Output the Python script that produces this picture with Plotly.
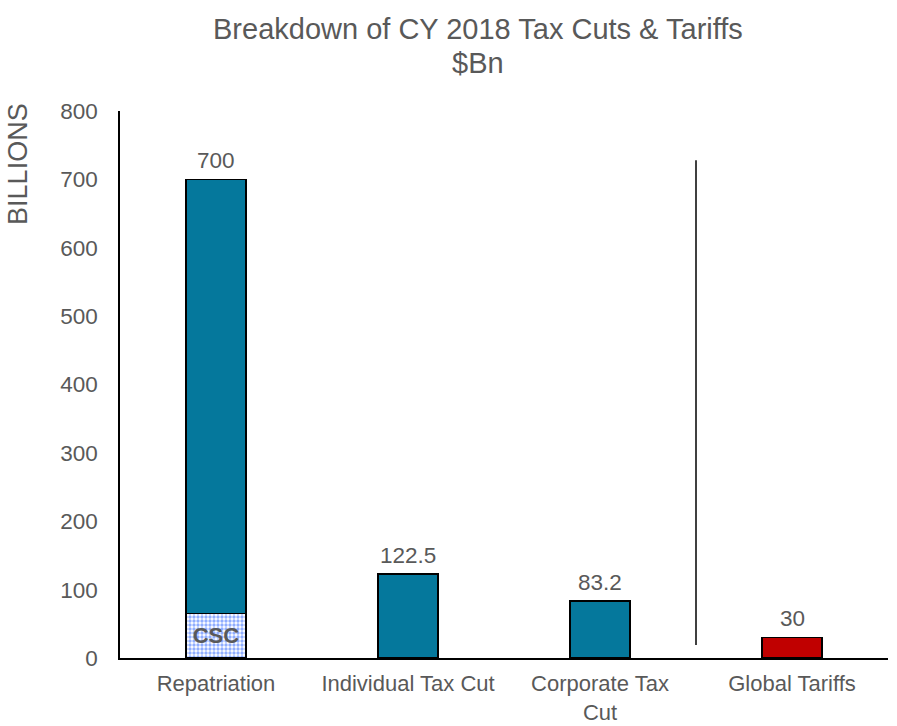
import plotly.graph_objects as go

# Tax cut / tariff breakdown, calendar year 2018, in $ billions
categories = ["Repatriation", "Individual Tax Cut", "Corporate Tax<br>Cut", "Global Tariffs"]
totals = [700, 122.5, 83.2, 30]
csc_share = [65, 0, 0, 0]          # portion of repatriation attributed to CSC
bar_colors = ["#05789C", "#05789C", "#05789C", "#C00000"]
title_lines = ["Breakdown of CY 2018 Tax Cuts & Tariffs", "$Bn"]

upper = [t - c for t, c in zip(totals, csc_share)]
label_text = [f"{t:g}" for t in totals]

GRAY = "#595959"
FONT = "Liberation Sans, Arial, sans-serif"
TICK = 22.5

fig = go.Figure()

# dotted CSC base segment
fig.add_trace(go.Bar(
    x=categories[:1], y=csc_share[:1],
    marker=dict(color="white",
                line=dict(color="black", width=1.5),
                pattern=dict(shape=".", fgcolor="#1F5BFF", bgcolor="white",
                             size=4, solidity=0.55)),
    text=["<b>CSC</b>"], textposition="inside", insidetextanchor="middle",
    textangle=0, constraintext="none",
    insidetextfont=dict(family=FONT, size=22, color=GRAY),
    hoverinfo="skip", showlegend=False,
))

# main bars (stacked on CSC for repatriation)
fig.add_trace(go.Bar(
    x=categories, y=upper,
    marker=dict(color=bar_colors, line=dict(color="black", width=1.5)),
    showlegend=False,
))

# divider between tax cuts and tariffs
fig.add_shape(type="line", xref="x", yref="y", x0=2.5, x1=2.5, y0=19, y1=728,
              line=dict(color="black", width=1.5))

annotations = []
# value labels above each bar
for cat, tot, txt in zip(categories, totals, label_text):
    annotations.append(dict(x=cat, y=tot, text=txt, xref="x", yref="y",
                            yanchor="middle", yshift=19, showarrow=False,
                            font=dict(family=FONT, size=TICK, color=GRAY)))
# two-line title
for line_text, ypos in zip(title_lines, [1.1505, 1.0885]):
    annotations.append(dict(text=line_text, xref="paper", yref="paper",
                            x=0.466, y=ypos, xanchor="center", yanchor="middle",
                            showarrow=False,
                            font=dict(family=FONT, size=29, color=GRAY)))
# axis title
annotations.append(dict(text="BILLIONS", xref="paper", yref="paper",
                        x=-0.133, y=0.903, xanchor="center", yanchor="middle",
                        textangle=-90, showarrow=False,
                        font=dict(family=FONT, size=27, color=GRAY)))

fig.update_layout(
    width=897, height=726,
    barmode="stack", bargap=0.6875,
    plot_bgcolor="white", paper_bgcolor="white",
    margin=dict(l=120, r=9, t=111, b=68),
    font=dict(family=FONT, size=TICK, color=GRAY),
    xaxis=dict(showline=True, linecolor="black", linewidth=1.5,
               showgrid=False, ticks="", ticklabelstandoff=5,
               automargin=False,
               tickfont=dict(family=FONT, size=22, color=GRAY)),
    yaxis=dict(range=[0, 800], dtick=100, showline=True, linecolor="black",
               linewidth=1.5, showgrid=False, zeroline=False, ticks="",
               ticklabelstandoff=16, automargin=False,
               tickfont=dict(family=FONT, size=TICK, color=GRAY)),
    annotations=annotations,
)

fig.write_html("out.html")
